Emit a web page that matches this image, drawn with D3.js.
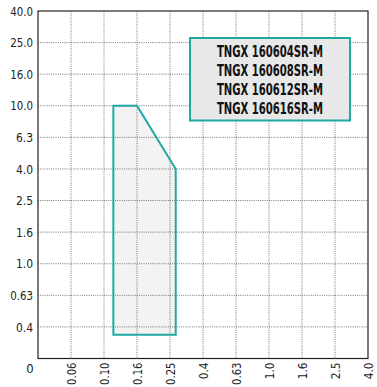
<!DOCTYPE html>
<html><head><meta charset="utf-8">
<script src="https://cdn.jsdelivr.net/npm/d3@7"></script>
<style>
body{margin:0;background:#fff;}
text{font-family:"Liberation Sans Narrow","DejaVu Sans Condensed",sans-serif;}
</style></head>
<body><svg id="c" width="377" height="387"></svg>
<script>
const xTicks = [0, 0.06, 0.10, 0.16, 0.25, 0.4, 0.63, 1.0, 1.6, 2.5, 4.0];
const xTickLabels = ["0", "0.06", "0.10", "0.16", "0.25", "0.4", "0.63", "1.0", "1.6", "2.5", "4.0"];
const yTicks = [0, 0.4, 0.63, 1.0, 1.6, 2.5, 4.0, 6.3, 10.0, 16.0, 25.0, 40.0];
const yTickLabels = ["0", "0.4", "0.63", "1.0", "1.6", "2.5", "4.0", "6.3", "10.0", "16.0", "25.0", "40.0"];
const areaX = [0.117, 0.117, 0.16, 0.276, 0.276];
const areaY = [0.30, 10.0, 10.0, 4.0, 0.30];
const legendItems = ["TNGX 160604SR-M", "TNGX 160608SR-M", "TNGX 160612SR-M", "TNGX 160616SR-M"];

const L = 38, R = 368, T = 11, B = 358.5;
const svg = d3.select("#c");
const x = d3.scaleLinear().domain(xTicks).range(xTicks.map((d,i)=> L + i*(R-L)/(xTicks.length-1)));
const y = d3.scaleLinear().domain(yTicks).range(yTicks.map((d,i)=> B - i*(B-T)/(yTicks.length-1)));

const teal = "#1fa9a4";
const fam = '"Liberation Sans Narrow","DejaVu Sans Condensed",sans-serif';
const pts = areaX.map((v,i)=>[x(v), y(areaY[i])]);
svg.append("path").attr("d", d3.line()(pts) + "Z").attr("fill", "#f3f3f3");

const g = svg.append("g");
xTicks.slice(1, -1).forEach(v => {
  g.append("line").attr("x1", x(v)).attr("x2", x(v)).attr("y1", T).attr("y2", B)
    .attr("stroke", "#666").attr("stroke-width", 0.9).attr("stroke-dasharray", "1,1.2");
});
yTicks.slice(1, -1).forEach(v => {
  g.append("line").attr("x1", L).attr("x2", R).attr("y1", y(v)).attr("y2", y(v))
    .attr("stroke", "#666").attr("stroke-width", 0.9).attr("stroke-dasharray", "1,1.2");
});

svg.append("path").attr("d", d3.line()(pts) + "Z").attr("fill", "none")
  .attr("stroke", teal).attr("stroke-width", 2);

svg.append("rect").attr("x", L).attr("y", T).attr("width", R-L).attr("height", B-T)
  .attr("fill", "none").attr("stroke", "#222").attr("stroke-width", 1.2);

const yAxis = d3.axisLeft(y).tickValues(yTicks.slice(1)).tickSize(0).tickPadding(5)
  .tickFormat((d)=> yTickLabels[yTicks.indexOf(d)]);
const ya = svg.append("g").attr("transform", `translate(${L},0)`).call(yAxis);
ya.select(".domain").remove();
ya.selectAll("text").attr("font-size", 13).attr("fill", "#222").style("font-family", fam)
  .attr("textLength", function(){ return this.textContent.length * 5.7; })
  .attr("lengthAdjust", "spacingAndGlyphs");

svg.append("text").attr("x", 30).attr("y", 373).attr("text-anchor", "middle")
  .attr("font-size", 13).attr("fill", "#222").text(yTickLabels[0]);

const xAxis = d3.axisBottom(x).tickValues(xTicks.slice(1)).tickSize(0)
  .tickFormat((d)=> xTickLabels[xTicks.indexOf(d)]);
const xa = svg.append("g").attr("transform", `translate(0,${B})`).call(xAxis);
xa.select(".domain").remove();
xa.selectAll("text").attr("font-size", 13).attr("fill", "#222")
  .attr("transform", "rotate(-90)").attr("text-anchor", "end")
  .attr("x", -4).attr("y", 0).attr("dy", "0.35em").style("font-family", fam)
  .attr("textLength", function(){ return this.textContent.length * 5.6; })
  .attr("lengthAdjust", "spacingAndGlyphs");

const lg = svg.append("g");
lg.append("rect").attr("x", 190).attr("y", 38).attr("width", 160).attr("height", 82.5)
  .attr("fill", "#e8e8e8").attr("stroke", teal).attr("stroke-width", 2);
legendItems.forEach((t,i)=>{
  lg.append("text").attr("x", 270).attr("y", 51 + i*19.3).attr("dy", "0.36em")
    .attr("text-anchor", "middle").attr("font-size", 15.5).attr("font-weight", "bold")
    .attr("fill", "#111").attr("textLength", 106).attr("lengthAdjust", "spacingAndGlyphs")
    .text(t);
});
</script></body></html>
